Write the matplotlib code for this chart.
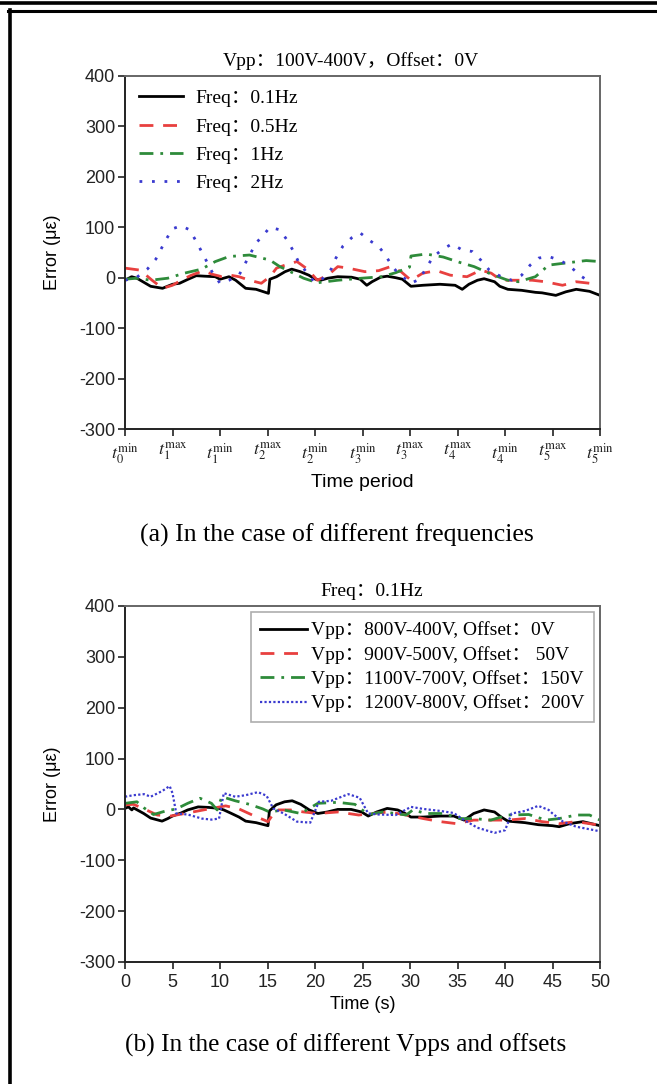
import matplotlib
matplotlib.use("Agg")
import matplotlib.pyplot as plt
from matplotlib.lines import Line2D

plt.rcParams["font.family"] = ["Liberation Sans", "DejaVu Sans"]
plt.rcParams["mathtext.fontset"] = "stix"
plt.rcParams["axes.unicode_minus"] = False

SERIF = ["Liberation Serif", "Noto Sans CJK SC", "DejaVu Serif"]

# ---- panel (a): different frequencies (x = time-period index 0..10)
period_labels = [r"$t_0^{\mathrm{min}}$", r"$t_1^{\mathrm{max}}$", r"$t_1^{\mathrm{min}}$",
                 r"$t_2^{\mathrm{max}}$", r"$t_2^{\mathrm{min}}$", r"$t_3^{\mathrm{min}}$",
                 r"$t_3^{\mathrm{max}}$", r"$t_4^{\mathrm{max}}$", r"$t_4^{\mathrm{min}}$",
                 r"$t_5^{\mathrm{max}}$", r"$t_5^{\mathrm{min}}$"]

f01_x = [0, 0.14, 0.25, 0.54, 0.79, 1.0, 1.15, 1.33, 1.5, 1.68, 1.9, 2.0, 2.19, 2.33, 2.54,
         2.76, 3.02, 3.05, 3.19, 3.37, 3.51, 3.69, 3.87, 4.01, 4.12, 4.27, 4.48, 4.77, 4.95,
         5.09, 5.2, 5.38, 5.52, 5.7, 5.84, 6.02, 6.27, 6.63, 6.95, 7.1, 7.24, 7.42, 7.56,
         7.78, 7.89, 8.06, 8.35, 8.64, 8.78, 9.07, 9.28, 9.5, 9.78, 10]
f01_y = [-5, 2, -1, -17, -21, -13, -11, -3, 4, 3, 2, -3, 2, -5, -21,
         -23, -31, -3, 2, 12, 17, 12, 5, -3, -5, -1, 2, 1, -3,
         -15, -8, 1, 3, 0, -3, -17, -15, -13, -15, -23, -13, -5, -2,
         -8, -17, -23, -25, -29, -30, -35, -28, -23, -27, -35]

f05_x = [0, 0.32, 0.57, 0.79, 1.0, 1.18, 1.4, 1.65, 1.83, 2.04, 2.22, 2.4, 2.62, 2.87, 3.05,
         3.19, 3.37, 3.62, 3.84, 4.05, 4.27, 4.48, 4.7, 5.05, 5.34, 5.59, 5.81, 6.02, 6.27,
         6.56, 6.85, 7.2, 7.49, 7.71, 7.92, 8.28, 8.57, 8.85, 9.21, 9.5, 9.78]
f05_y = [19, 15, -5, -21, -15, -5, 5, 14, 7, 2, 5, 2, -5, -11, 2,
         19, 25, 32, 17, -5, 5, 22, 19, 12, 14, 22, 12, -5, 9,
         14, 5, 2, 15, 9, -5, -5, -5, -8, -15, -8, -11]

f1_x = [0, 0.25, 0.54, 0.9, 1.25, 1.61, 1.9, 2.19, 2.62, 3.05, 3.26, 3.48, 3.76, 4.05, 4.48,
        4.98, 5.41, 5.7, 5.99, 6.02, 6.34, 6.7, 7.06, 7.35, 7.71, 8.06, 8.28, 8.64, 8.92,
        9.35, 9.71, 10]
f1_y = [-3, -1, -5, -1, 9, 17, 32, 42, 45, 35, 22, 12, -1, -10, -5,
        -1, 2, 10, 21, 43, 47, 41, 30, 22, 7, -5, -8, 2, 25,
        30, 34, 32]

f2_x = [0, 0.25, 0.47, 0.65, 0.86, 1.0, 1.18, 1.36, 1.5, 1.65, 1.83, 2.0, 2.19, 2.4, 2.54,
        2.76, 2.9, 3.05, 3.26, 3.41, 3.55, 3.66, 3.84, 3.98, 4.12, 4.34, 4.44, 4.59, 4.77,
        4.95, 5.13, 5.34, 5.48, 5.63, 5.77, 6.02, 6.2, 6.34, 6.49, 6.7, 6.88, 7.1, 7.31,
        7.49, 7.67, 7.92, 8.14, 8.35, 8.53, 8.71, 8.92, 9.17, 9.39, 9.57, 9.78]
f2_y = [-5, 1, 17, 37, 75, 97, 103, 95, 72, 45, 12, -11, -5, 5, 30,
        69, 83, 100, 95, 75, 52, 30, 9, -8, -6, 17, 39, 63, 79,
        89, 75, 62, 45, 22, 7, -11, -3, 19, 42, 57, 67, 55, 52,
        35, 15, 2, -5, 5, 25, 39, 42, 34, 21, 5, -8]

# ---- panel (b): different Vpps and offsets (x = time in s)
v800_x = [0, 0.36, 0.72, 0.9, 1.97, 2.7, 3.9, 4.5, 5.0, 5.9, 6.6, 7.7, 8.8, 9.9, 10.4, 11.1,
          12.0, 12.7, 13.8, 15.05, 15.2, 15.9, 16.8, 17.6, 18.5, 19.4, 20.3, 21.3, 22.4,
          23.8, 24.9, 25.6, 26.5, 27.6, 28.7, 29.4, 30.1, 31.4, 33.2, 34.6, 35.7, 36.7,
          37.8, 38.9, 39.6, 40.3, 42.1, 43.5, 45.0, 45.7, 46.8, 48.2, 50]
v800_y = [2, 5, -1, 3, -8, -17, -23, -18, -13, -7, -1, 5, 4, 2, -1, -7,
          -15, -23, -26, -32, -3, 9, 15, 17, 10, -1, -8, -5, 0,
          0, -5, -13, -5, 2, -1, -7, -15, -15, -13, -13, -21, -8,
          -1, -5, -15, -23, -26, -30, -32, -34, -28, -24, -32]

v900_x = [0, 0.9, 2.0, 3.4, 4.8, 6.3, 7.7, 9.1, 10.6, 12.0, 13.4, 15.05, 15.9, 17.4, 18.8,
          20.3, 22.4, 24.6, 26.0, 27.8, 29.6, 31.4, 33.2, 34.9, 36.7, 38.5, 40.3, 42.1,
          43.9, 45.7, 47.5, 48.9, 50]
v900_y = [9, 10, 1, -11, -13, -8, -3, 2, 7, 1, -11, -24, -1, -1, -5,
          -8, -5, -11, -8, -5, -11, -18, -24, -28, -21, -21, -21, -18,
          -24, -28, -24, -28, -31]

v1100_x = [0, 1.25, 2.0, 3.0, 4.3, 5.4, 6.6, 7.9, 9.1, 9.7, 10.2, 11.6, 13.1, 14.5, 15.2,
           16.7, 18.5, 20.3, 22.4, 24.2, 25.6, 27.1, 28.5, 29.6, 30.3, 31.7, 33.5, 35.3,
           36.7, 38.5, 40.3, 42.5, 44.3, 45.7, 47.5, 48.9, 50]
v1100_y = [12, 15, 3, -10, -3, 1, 12, 22, 12, -1, 25, 17, 10, 1, -5,
           -1, -8, 12, 14, 10, -10, -5, -8, -11, -1, -8, -8, -18,
           -18, -21, -11, -10, -21, -18, -11, -11, -21]

v1200_x = [0, 0.9, 2.0, 2.7, 3.9, 4.7, 5.0, 5.4, 6.6, 8.1, 9.1, 9.9, 10.4, 11.6, 12.7, 14.0,
           14.9, 15.6, 16.7, 18.1, 19.5, 20.4, 21.7, 23.5, 24.7, 25.6, 26.7, 28.5, 30.1,
           31.4, 33.2, 34.6, 35.7, 37.1, 38.9, 40.0, 40.7, 42.1, 43.5, 44.6, 45.0, 46.1,
           47.5, 48.9, 50]
v1200_y = [25, 28, 30, 25, 36, 46, 32, -8, -10, -18, -20, -18, 32, 25, 28, 34,
           27, 2, -8, -24, -26, 15, 17, 30, 23, -8, -10, -11, 5,
           1, -3, -7, -21, -36, -46, -41, -8, -3, 7, -1, -8, -24,
           -34, -39, -43]

RED = "#e8403f"
GREEN = "#2e8b3a"
BLUE = "#3a3acf"

fig = plt.figure(figsize=(6.57, 10.84), dpi=100)
W, H = 657.0, 1084.0


def px_axes(left, top, right, bottom):
    return fig.add_axes([left / W, 1 - bottom / H, (right - left) / W, (bottom - top) / H])


def style_axes(ax):
    ax.set_ylim(-300, 400)
    ax.set_yticks(range(-300, 401, 100))
    ax.tick_params(axis="both", direction="out", length=5, width=1.2, labelsize=13,
                   colors="#222222", top=False, right=False)
    ax.tick_params(axis="y", pad=2)
    for side in ("left", "bottom"):
        ax.spines[side].set_color("#222222")
        ax.spines[side].set_linewidth(1.4)
    for side in ("top", "right"):
        ax.spines[side].set_color("#666666")
        ax.spines[side].set_linewidth(1.4)
    ax.set_ylabel("Error (μ\u03b5)", fontsize=13, labelpad=13)


# panel (a)
ax1 = px_axes(125, 76, 600, 429)
lw = 2.0
ax1.plot(f01_x, f01_y, color="black", lw=lw, label="Freq：0.1Hz")
ax1.plot(f05_x, f05_y, color=RED, lw=lw, dashes=(5, 3.5), label="Freq：0.5Hz")
ax1.plot(f1_x, f1_y, color=GREEN, lw=lw, dashes=(5, 2.5, 1, 2.5), label="Freq：1Hz")
ax1.plot(f2_x, f2_y, color=BLUE, lw=lw, dashes=(1, 3.5), label="Freq：2Hz")
ax1.set_xlim(0, 10)
ax1.set_xticks(range(len(period_labels)))
ax1.set_xticklabels(period_labels, fontsize=15)
style_axes(ax1)
ax1.set_xlabel("Time period", fontsize=14, labelpad=6)
ax1.set_title("Vpp：100V-400V，Offset：0V", fontsize=14, family=SERIF, pad=7, x=0.475)
ax1.legend(loc="upper left", frameon=False, prop={"family": SERIF, "size": 14},
           handlelength=2.3, handletextpad=0.6, labelspacing=0.55,
           borderaxespad=0.3)

# panel (b)
ax2 = px_axes(125, 606, 600, 962)
ax2.plot(v800_x, v800_y, color="black", lw=lw, label="Vpp：800V-400V, Offset：0V")
ax2.plot(v900_x, v900_y, color=RED, lw=lw, dashes=(5, 3.5), label="Vpp：900V-500V, Offset： 50V")
ax2.plot(v1100_x, v1100_y, color=GREEN, lw=lw, dashes=(5, 2.5, 1, 2.5),
         label="Vpp：1100V-700V, Offset：150V")
ax2.plot(v1200_x, v1200_y, color=BLUE, lw=1.6, dashes=(1, 1), label="Vpp：1200V-800V, Offset：200V")
ax2.set_xlim(0, 50)
ax2.set_xticks(range(0, 51, 5))
style_axes(ax2)
ax2.set_xlabel("Time (s)", fontsize=13, labelpad=4)
ax2.set_title("Freq：0.1Hz", fontsize=14, family=SERIF, pad=7, x=0.52)
leg = ax2.legend(loc="upper right", frameon=True, fancybox=False,
                 prop={"family": SERIF, "size": 14}, handlelength=2.4,
                 handletextpad=0.2, labelspacing=0.33, borderaxespad=0.3,
                 borderpad=0.5)
leg.get_frame().set_edgecolor("#999999")
leg.get_frame().set_linewidth(1.2)

# captions
fig.text(337 / W, 1 - 535 / H, "(a) In the case of different frequencies",
         ha="center", va="center", fontsize=18.5, family=SERIF)
fig.text(346 / W, 1 - 1045 / H, "(b) In the case of different Vpps and offsets",
         ha="center", va="center", fontsize=18.3, family=SERIF)

# page frame lines
fig.add_artist(Line2D([0, 1], [1 - 2.5 / H, 1 - 2.5 / H], color="black", lw=2.6))
fig.add_artist(Line2D([8 / W, 1], [1 - 11 / H, 1 - 11 / H], color="black", lw=2.2))
fig.add_artist(Line2D([10 / W, 10 / W], [1 - 10 / H, 0], color="black", lw=2.6))

fig.savefig("out.png", dpi=100)
